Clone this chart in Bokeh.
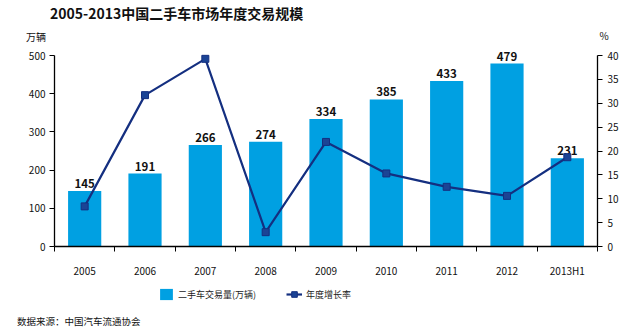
from bokeh.plotting import figure
from bokeh.layouts import column
from bokeh.models import Range1d, LinearAxis, FixedTicker, Legend, LegendItem, ColumnDataSource, Div
from bokeh.embed import file_html
from bokeh.resources import INLINE
from bokeh.core.properties import value

categories = ["2005", "2006", "2007", "2008", "2009", "2010", "2011", "2012", "2013H1"]
volume = [145, 191, 266, 274, 334, 385, 433, 479, 231]
growth = [8.4, 31.7, 39.3, 3.0, 21.9, 15.3, 12.5, 10.6, 18.7]
left_ticks = [0, 100, 200, 300, 400, 500]
right_ticks = [0, 5, 10, 15, 20, 25, 30, 35, 40]
title_text = "2005-2013中国二手车市场年度交易规模"
left_unit = "万辆"
right_unit = "%"
bar_name = "二手车交易量(万辆)"
line_name = "年度增长率"
source_text = "数据来源：中国汽车流通协会"

FONT = "Noto Sans CJK SC"
BAR = "#00a0e2"
LINE = "#142f80"
MARK = "#1b4495"
W = 640
TOP_H, MAIN_H, LEG_H, SRC_H = 45, 235, 32, 18
FL, FR = 54, 597          # frame left / right in canvas px
FT, FB = 45, 246          # main frame top / bottom in canvas px
Y500 = 55                 # canvas y of value 500


def span(text, left, top, size, weight="normal", center=False):
    tx = "translate(-50%,-50%)" if center else "translate(0,-50%)"
    return ('<span style="position:absolute;left:%dpx;top:%dpx;transform:%s;white-space:nowrap;'
            'font-family:\'%s\';font-size:%s;font-weight:%s;line-height:1;color:#111111;">%s</span>'
            % (left, top, tx, FONT, size, weight, text))


def box(h, inner):
    return ('<div style="position:relative;width:%dpx;height:%dpx;margin:0;padding:0;">%s</div>'
            % (W, h, inner))


# ---- top strip: title and unit labels
top = Div(width=W, height=TOP_H, margin=0,
          text=box(TOP_H, span(title_text, 50, 13, "14px", "bold")
                   + span(left_unit, 36, 37, "10px", center=True)
                   + span(right_unit, 604, 36, "10px", center=True)))

# ---- main chart
n = len(categories)
xs = [i + 0.5 for i in range(n)]
src = ColumnDataSource(dict(x=xs, v=volume, g=growth, lbl=[str(v) for v in volume]))
YMAX = 500 * (FB - FT) / (FB - Y500)
PMAX = 40 * (FB - FT) / (FB - Y500)

p = figure(width=W, height=MAIN_H, output_backend="svg", toolbar_location=None,
           x_range=Range1d(0, n), y_range=Range1d(0, YMAX),
           min_border_left=FL, min_border_right=W - FR, min_border_top=0,
           min_border_bottom=TOP_H + MAIN_H - FB, margin=0,
           outline_line_color=None, background_fill_color="white", border_fill_color="white")
p.xgrid.visible = False
p.ygrid.visible = False
p.extra_y_ranges = {"pct": Range1d(0, PMAX)}

xa = p.xaxis[0]
xa.ticker = FixedTicker(ticks=xs, minor_ticks=list(range(n + 1)))
xa.major_label_overrides = {x: c for x, c in zip(xs, categories)}
xa.major_tick_out = 0
xa.major_tick_in = 0
xa.minor_tick_out = 5
xa.minor_tick_in = 0
xa.major_label_standoff = 11
ya = p.yaxis[0]
ya.ticker = FixedTicker(ticks=left_ticks)
ya.bounds = (0, 500)
ya.major_tick_out = 5
ya.major_tick_in = 0
ya.minor_tick_out = 0
ya.major_label_standoff = 4

ra = LinearAxis(y_range_name="pct", ticker=FixedTicker(ticks=right_ticks), bounds=(0, 40))
ra.major_tick_out = 5
ra.major_tick_in = 0
ra.minor_tick_out = 0
ra.major_label_standoff = 5
p.add_layout(ra, "right")

for ax in (xa, ya, ra):
    ax.axis_line_color = "black"
    ax.axis_line_width = 1.3
    ax.major_tick_line_color = "black"
    ax.minor_tick_line_color = "black"
    ax.major_label_text_font = FONT
    ax.major_label_text_font_size = "10px"
    ax.major_label_text_color = "#111111"

p.vbar(x="x", top="v", width=0.55, source=src, color=BAR, line_color=None)
p.text(x="x", y="v", text="lbl", source=src, text_align="center", text_baseline="bottom",
       y_offset=-3, text_font=value(FONT), text_font_size="11.5px", text_font_style="bold",
       text_color="#111111")
p.line(x="x", y="g", source=src, y_range_name="pct", line_color=LINE, line_width=2.2)
p.scatter(x="x", y="g", source=src, y_range_name="pct", marker="square", size=7,
          fill_color=MARK, line_color=LINE)

# ---- legend strip (frame aligns with the chart frame)
leg = figure(width=W, height=LEG_H, output_backend="svg", toolbar_location=None,
             x_range=Range1d(0, 1), y_range=Range1d(0, 1),
             x_axis_location=None, y_axis_location=None, margin=0,
             min_border_left=FL, min_border_right=W - FR, min_border_top=0, min_border_bottom=0,
             outline_line_color=None, background_fill_color="white", border_fill_color="white")
leg.xgrid.visible = False
leg.ygrid.visible = False
hidden = ColumnDataSource(dict(x=[-10, -9], y=[-10, -10]))   # off-view samples for legend glyphs
lb = leg.vbar(x="x", top="y", width=0.5, source=hidden, color=BAR, line_color=None)
ll = leg.line(x="x", y="y", source=hidden, line_color=LINE, line_width=2.2)
lm = leg.scatter(x="x", y="y", source=hidden, marker="square", size=7, fill_color=MARK, line_color=LINE)
legend = Legend(items=[LegendItem(label=bar_name, renderers=[lb]),
                       LegendItem(label=line_name, renderers=[ll, lm])],
                orientation="horizontal", location=(158 - FL, 11),
                background_fill_alpha=0, border_line_color=None,
                label_text_font=FONT, label_text_font_size="9px", label_text_color="#222222",
                glyph_width=16, glyph_height=14, label_standoff=4, spacing=30,
                padding=0, margin=0, label_height=14)
leg.add_layout(legend, "center")

# ---- source line
srcdiv = Div(width=W, height=SRC_H, margin=0,
             text=box(SRC_H, span(source_text, 17, 10, "9.5px")))

lay = column(top, p, leg, srcdiv, spacing=0, margin=0)
open("out.html", "w").write(file_html(lay, INLINE))
